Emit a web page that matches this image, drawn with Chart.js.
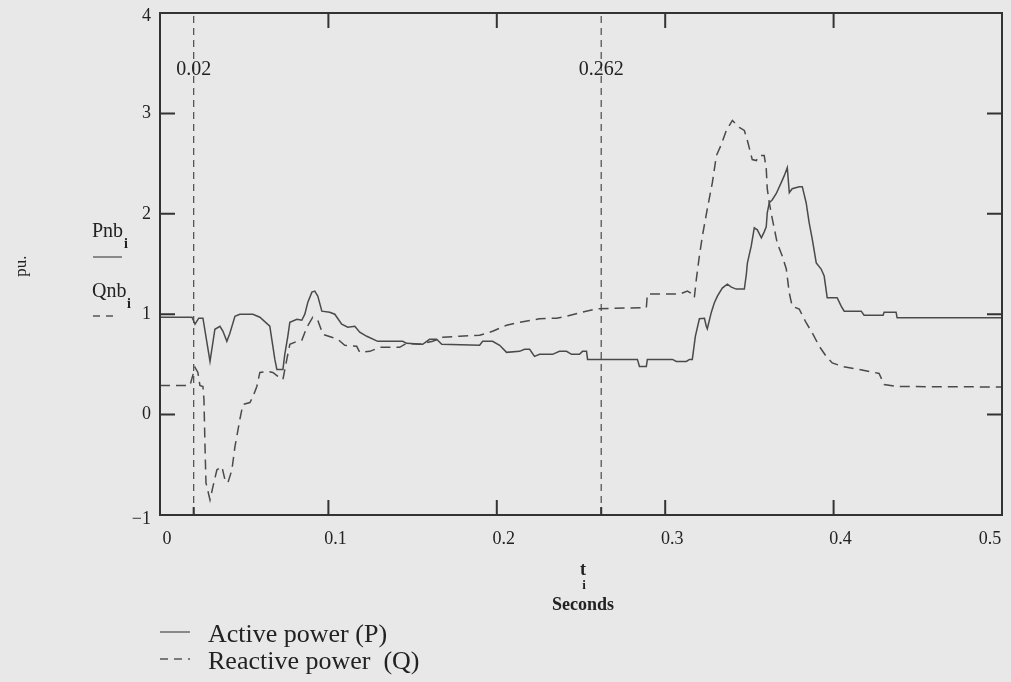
<!DOCTYPE html>
<html>
<head>
<meta charset="utf-8">
<script src="https://cdn.jsdelivr.net/npm/chart.js@4.4.1/dist/chart.umd.min.js"></script>
<style>
  html, body { margin: 0; padding: 0; background: #e8e8e8; }
  #wrap { width: 1011px; height: 682px; position: relative; }
</style>
</head>
<body>
<div id="wrap"><canvas id="c" width="1011" height="682"></canvas></div>
<script>
// ---- Data ----
const pTime = [0, 0.019, 0.0208, 0.023, 0.0255, 0.0297, 0.0326, 0.0356, 0.0374, 0.0397, 0.0415, 0.0445, 0.0474, 0.0552, 0.0593, 0.0652, 0.0682, 0.0694, 0.073, 0.0741, 0.0759, 0.0771, 0.0813, 0.0842, 0.086, 0.0878, 0.0902, 0.0919, 0.0937, 0.0961, 0.1008, 0.1038, 0.1079, 0.1115, 0.1157, 0.1186, 0.1228, 0.1293, 0.1441, 0.1465, 0.156, 0.1601, 0.1643, 0.1673, 0.1898, 0.1916, 0.1975, 0.2017, 0.2058, 0.2135, 0.2165, 0.2195, 0.2224, 0.2254, 0.2331, 0.2372, 0.2414, 0.2444, 0.2491, 0.2509, 0.2533, 0.2539, 0.2835, 0.2847, 0.2888, 0.2894, 0.3043, 0.3066, 0.3126, 0.3144, 0.3161, 0.3179, 0.3203, 0.3233, 0.3244, 0.325, 0.3274, 0.3292, 0.331, 0.3339, 0.3369, 0.3393, 0.3422, 0.347, 0.3482, 0.3488, 0.3511, 0.3529, 0.3547, 0.3571, 0.3588, 0.36, 0.3606, 0.3618, 0.3636, 0.3659, 0.3689, 0.3707, 0.3725, 0.3737, 0.3754, 0.3796, 0.3814, 0.3837, 0.3855, 0.3873, 0.3897, 0.3926, 0.3944, 0.3962, 0.4021, 0.4045, 0.4063, 0.4164, 0.4181, 0.4294, 0.43, 0.4371, 0.4377, 0.5];
const pValues = [0.97, 0.97, 0.9, 0.96, 0.96, 0.53, 0.85, 0.88, 0.83, 0.73, 0.81, 0.98, 1.0, 1.0, 0.97, 0.88, 0.55, 0.45, 0.45, 0.6, 0.78, 0.92, 0.95, 0.94, 1.0, 1.12, 1.22, 1.23, 1.18, 1.03, 1.02, 1.0, 0.9, 0.87, 0.88, 0.82, 0.78, 0.73, 0.73, 0.71, 0.70, 0.75, 0.75, 0.70, 0.69, 0.73, 0.73, 0.69, 0.62, 0.63, 0.65, 0.65, 0.58, 0.6, 0.6, 0.63, 0.63, 0.6, 0.6, 0.63, 0.63, 0.55, 0.55, 0.48, 0.48, 0.55, 0.55, 0.53, 0.53, 0.55, 0.55, 0.78, 0.955, 0.96, 0.88, 0.855, 1.02, 1.115, 1.18, 1.26, 1.30, 1.27, 1.25, 1.25, 1.4, 1.51, 1.68, 1.86, 1.84, 1.76, 1.82, 1.87, 2.01, 2.11, 2.14, 2.2, 2.31, 2.38, 2.46, 2.21, 2.25, 2.27, 2.27, 2.11, 1.91, 1.75, 1.51, 1.45, 1.38, 1.165, 1.165, 1.08, 1.03, 1.03, 0.99, 0.99, 1.02, 1.02, 0.965, 0.965];

const qTime = [0, 0.0178, 0.0208, 0.0225, 0.0237, 0.0255, 0.0261, 0.0267, 0.0273, 0.0297, 0.0314, 0.0338, 0.0368, 0.0386, 0.0403, 0.0427, 0.0445, 0.0474, 0.0492, 0.0534, 0.0552, 0.0575, 0.0593, 0.0635, 0.067, 0.07, 0.073, 0.0753, 0.0771, 0.0813, 0.0842, 0.0872, 0.0907, 0.0937, 0.0967, 0.102, 0.1056, 0.1097, 0.1168, 0.1186, 0.1246, 0.1305, 0.1423, 0.1465, 0.1542, 0.1619, 0.1679, 0.1779, 0.1898, 0.1975, 0.2058, 0.2135, 0.2254, 0.2355, 0.2414, 0.2509, 0.2598, 0.2888, 0.2894, 0.3084, 0.3132, 0.3161, 0.3173, 0.3185, 0.3203, 0.3221, 0.325, 0.328, 0.3304, 0.3333, 0.3363, 0.3399, 0.344, 0.347, 0.3488, 0.3517, 0.3541, 0.3559, 0.3588, 0.36, 0.3606, 0.3618, 0.3636, 0.3665, 0.3695, 0.3719, 0.3737, 0.3754, 0.3796, 0.3837, 0.3873, 0.3915, 0.3956, 0.3992, 0.4051, 0.4152, 0.427, 0.43, 0.4377, 0.5];
const qValues = [0.29, 0.29, 0.47, 0.42, 0.29, 0.28, 0.15, -0.3, -0.68, -0.85, -0.72, -0.55, -0.52, -0.65, -0.68, -0.55, -0.32, -0.05, 0.1, 0.12, 0.18, 0.28, 0.42, 0.43, 0.42, 0.38, 0.35, 0.55, 0.70, 0.73, 0.74, 0.87, 0.97, 0.94, 0.8, 0.77, 0.75, 0.69, 0.68, 0.62, 0.63, 0.67, 0.67, 0.71, 0.70, 0.73, 0.77, 0.78, 0.79, 0.83, 0.89, 0.92, 0.955, 0.96, 0.98, 1.02, 1.055, 1.065, 1.2, 1.2, 1.23, 1.2, 1.165, 1.35, 1.58, 1.78, 2.05, 2.31, 2.58, 2.69, 2.83, 2.93, 2.86, 2.83, 2.73, 2.54, 2.53, 2.58, 2.58, 2.45, 2.25, 2.11, 1.95, 1.71, 1.58, 1.45, 1.21, 1.08, 1.05, 0.915, 0.815, 0.68, 0.58, 0.515, 0.48, 0.45, 0.41, 0.3, 0.28, 0.275];

const markerTimes = [0.02, 0.262];
const markerLabels = ['0.02', '0.262'];
const xTicks = [0, 0.1, 0.2, 0.3, 0.4, 0.5];
const xTickLabels = ['0', '0.1', '0.2', '0.3', '0.4', '0.5'];
const yTicks = [4, 3, 2, 1, 0, -1];
const yTickLabels = ['4', '3', '2', '1', '0', '\u22121'];
const seriesNames = ['Active power (P)', 'Reactive power  (Q)'];
const traceNames = ['Pnb', 'Qnb'];

// ---- Build datasets ----
const toPts = (xs, ys) => xs.map((x, i) => ({ x: x, y: ys[i] }));
const lineColor = '#4a4a4a';
const datasets = [
  { data: toPts(pTime, pValues), borderColor: lineColor, borderWidth: 1.5, pointRadius: 0, tension: 0, fill: false },
  { data: toPts(qTime, qValues), borderColor: lineColor, borderWidth: 1.5, borderDash: [10, 6], pointRadius: 0, tension: 0, fill: false }
];
markerTimes.forEach(t => {
  datasets.push({ data: [{ x: t, y: -1 }, { x: t, y: 4 }], borderColor: '#4a4a4a', borderWidth: 1.2, borderDash: [7, 5], pointRadius: 0, fill: false });
});

const SERIF = '"Liberation Serif", "DejaVu Serif", serif';

const decor = {
  id: 'decor',
  afterDraw(chart) {
    const ctx = chart.ctx;
    const xs = chart.scales.x, ys = chart.scales.y;
    const a = chart.chartArea;
    ctx.save();
    // frame
    ctx.strokeStyle = '#333';
    ctx.lineWidth = 2;
    ctx.strokeRect(a.left, a.top, a.right - a.left, a.bottom - a.top);
    // ticks
    ctx.lineWidth = 2;
    ctx.beginPath();
    yTicks.forEach(v => {
      if (v === 4 || v === -1) return;
      const y = ys.getPixelForValue(v);
      ctx.moveTo(a.left, y); ctx.lineTo(a.left + 15, y);
      ctx.moveTo(a.right, y); ctx.lineTo(a.right - 15, y);
    });
    xTicks.forEach(v => {
      if (v === 0 || v === 0.5) return;
      const x = xs.getPixelForValue(v);
      ctx.moveTo(x, a.bottom); ctx.lineTo(x, a.bottom - 15);
      ctx.moveTo(x, a.top); ctx.lineTo(x, a.top + 15);
    });
    markerTimes.forEach(v => {
      const x = xs.getPixelForValue(v);
      ctx.moveTo(x, a.bottom); ctx.lineTo(x, a.bottom - 8);
    });
    ctx.stroke();

    ctx.fillStyle = '#222';
    // y tick labels
    ctx.font = '18px ' + SERIF;
    ctx.textAlign = 'right';
    ctx.textBaseline = 'middle';
    yTicks.forEach((v, i) => {
      let y = ys.getPixelForValue(v);
      if (v === 4) y += 3;
      if (v === -1) y += 4;
      ctx.fillText(yTickLabels[i], a.left - 9, y);
    });
    // x tick labels
    ctx.textAlign = 'center';
    ctx.textBaseline = 'alphabetic';
    xTicks.forEach((v, i) => {
      let x = xs.getPixelForValue(v) + 7;
      if (v === 0.5) x = xs.getPixelForValue(v) - 12;
      ctx.fillText(xTickLabels[i], x, a.bottom + 29);
    });
    // marker labels
    ctx.font = '20px ' + SERIF;
    ctx.textAlign = 'center';
    markerTimes.forEach((v, i) => {
      const x = xs.getPixelForValue(v);
      ctx.fillText(markerLabels[i], x, 75);
    });
    // x axis title
    ctx.font = 'bold 18px ' + SERIF;
    ctx.fillText('t', 583, 575);
    ctx.font = 'bold 13px ' + SERIF;
    ctx.fillText('i', 584, 589);
    ctx.font = 'bold 18px ' + SERIF;
    ctx.fillText('Seconds', 583, 610);
    // y axis title
    ctx.save();
    ctx.translate(22, 266);
    ctx.rotate(-Math.PI / 2);
    ctx.font = '17px ' + SERIF;
    ctx.textAlign = 'center';
    ctx.textBaseline = 'middle';
    ctx.fillText('pu.', 0, 0);
    ctx.restore();
    // trace names on left
    ctx.textAlign = 'left';
    ctx.font = '20px ' + SERIF;
    ctx.fillText(traceNames[0], 92, 237);
    ctx.fillText(traceNames[1], 92, 297);
    ctx.font = 'bold 14px ' + SERIF;
    ctx.fillText('i', 124, 248);
    ctx.fillText('i', 127, 308);
    ctx.strokeStyle = '#555';
    ctx.lineWidth = 1.3;
    ctx.beginPath(); ctx.moveTo(93, 257); ctx.lineTo(122, 257); ctx.stroke();
    ctx.setLineDash([7, 6]);
    ctx.beginPath(); ctx.moveTo(93, 316); ctx.lineTo(119, 316); ctx.stroke();
    ctx.setLineDash([]);
    // legend at bottom
    ctx.font = '26px ' + SERIF;
    ctx.fillText(seriesNames[0], 208, 642);
    ctx.fillText(seriesNames[1], 208, 669);
    ctx.beginPath(); ctx.moveTo(160, 632); ctx.lineTo(190, 632); ctx.stroke();
    ctx.setLineDash([8, 6]);
    ctx.beginPath(); ctx.moveTo(160, 659); ctx.lineTo(190, 659); ctx.stroke();
    ctx.restore();
  }
};

new Chart(document.getElementById('c'), {
  type: 'line',
  data: { datasets: datasets },
  options: {
    responsive: false,
    animation: false,
    layout: { padding: { left: 160, top: 13, right: 9, bottom: 167 } },
    plugins: { legend: { display: false }, tooltip: { enabled: false } },
    scales: {
      x: { type: 'linear', min: 0, max: 0.5, display: false },
      y: { type: 'linear', min: -1, max: 4, display: false }
    }
  },
  plugins: [decor]
});
</script>
</body>
</html>
